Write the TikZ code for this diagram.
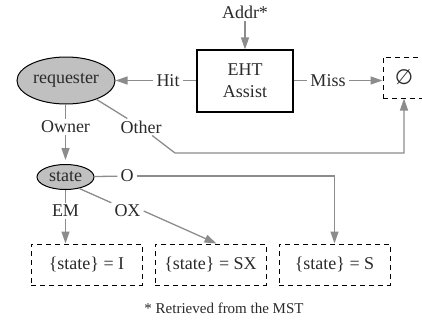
\documentclass[tikz,border=0pt]{standalone}
\usepackage{fontspec}
\setmainfont{Liberation Serif}
\newfontfamily\symfont{DejaVu Sans}
\usetikzlibrary{arrows.meta,shapes.geometric}
\definecolor{edgegray}{HTML}{8C8C8C}
\definecolor{fillgray}{HTML}{C0C0C0}
\definecolor{txt}{HTML}{2A2A2A}
\begin{document}
\begin{tikzpicture}[x=1pt,y=-1pt,
  every node/.style={text=txt,font=\fontsize{18}{22}\selectfont},
  lbl/.style={inner xsep=3pt,inner ysep=2pt},
  box/.style={draw=black,line width=1.1pt,minimum width=96pt,minimum height=62pt,align=center,inner sep=0pt},
  ell/.style={ellipse,draw=black,line width=1pt,fill=fillgray,inner sep=0pt},
  dbox/.style={draw=black,line width=1pt,dash pattern=on 5pt off 4pt,minimum height=41pt,inner sep=0pt},
  ln/.style={draw=edgegray,line width=1.3pt},
  arr/.style={ln,-{Triangle[length=12pt,width=8pt]}},
]
\useasboundingbox (0,0) rectangle (422,321);
\node[lbl] (addr) at (245,12) {Addr*};
\node[box] (eht) at (245,81) {EHT\\Assist};
\node[ell,minimum width=98pt,minimum height=47pt] (req) at (66,80.5) {requester};
\node[lbl] (hit) at (168,80.5) {Hit};
\node[lbl] (miss) at (328,80.5) {Miss};
\node[dbox,minimum width=42pt] (empty) at (404,77.5) {{\symfont\fontsize{21}{22}\selectfont ∅}};
\node[lbl] (owner) at (65.5,127) {Owner};
\node[lbl] (other) at (141,127) {Other};
\coordinate (c1) at (175,153);
\node[ell,minimum width=57pt,minimum height=25pt] (state) at (65.5,177) {state};
\node[lbl] (o) at (127,176) {O};
\node[lbl] (em) at (65.5,211) {EM};
\node[lbl] (ox) at (127.5,211) {OX};
\node[dbox,minimum width=111pt] (bi) at (86.5,264.5) {\{state\} = I};
\node[dbox,minimum width=111pt] (bsx) at (210.5,264.5) {\{state\} = SX};
\node[dbox,minimum width=111pt] (bs) at (334.5,264.5) {\{state\} = S};
\coordinate (sxtip) at (216.5,243.5);
\node[font=\fontsize{15}{18}\selectfont] (foot) at (224,308) {* Retrieved from the MST};

\draw[arr] (addr) -- (eht);
\draw[ln] (eht.west |- hit) -- (hit);
\draw[arr] (hit) -- (req);
\draw[ln] (eht.east |- miss) -- (miss);
\draw[arr] (miss) -- (empty.west |- miss);
\draw[ln] (req) -- (other);
\draw[arr] (other) -- (c1) -- (c1 -| empty.south) -- (empty.south);
\draw[ln] (req.south -| owner) -- (owner);
\draw[arr,shorten >=4pt] (owner) -- (state);
\draw[ln] (state) -- (o);
\draw[arr] (o) -- (o -| bs.north) -- (bs.north);
\draw[ln] (state.south -| em) -- (em);
\draw[arr] (em) -- (em |- bi.north);
\draw[ln] (state.-40) -- (ox.north west);
\draw[arr] (ox.east) -- (sxtip);
\end{tikzpicture}
\end{document}
